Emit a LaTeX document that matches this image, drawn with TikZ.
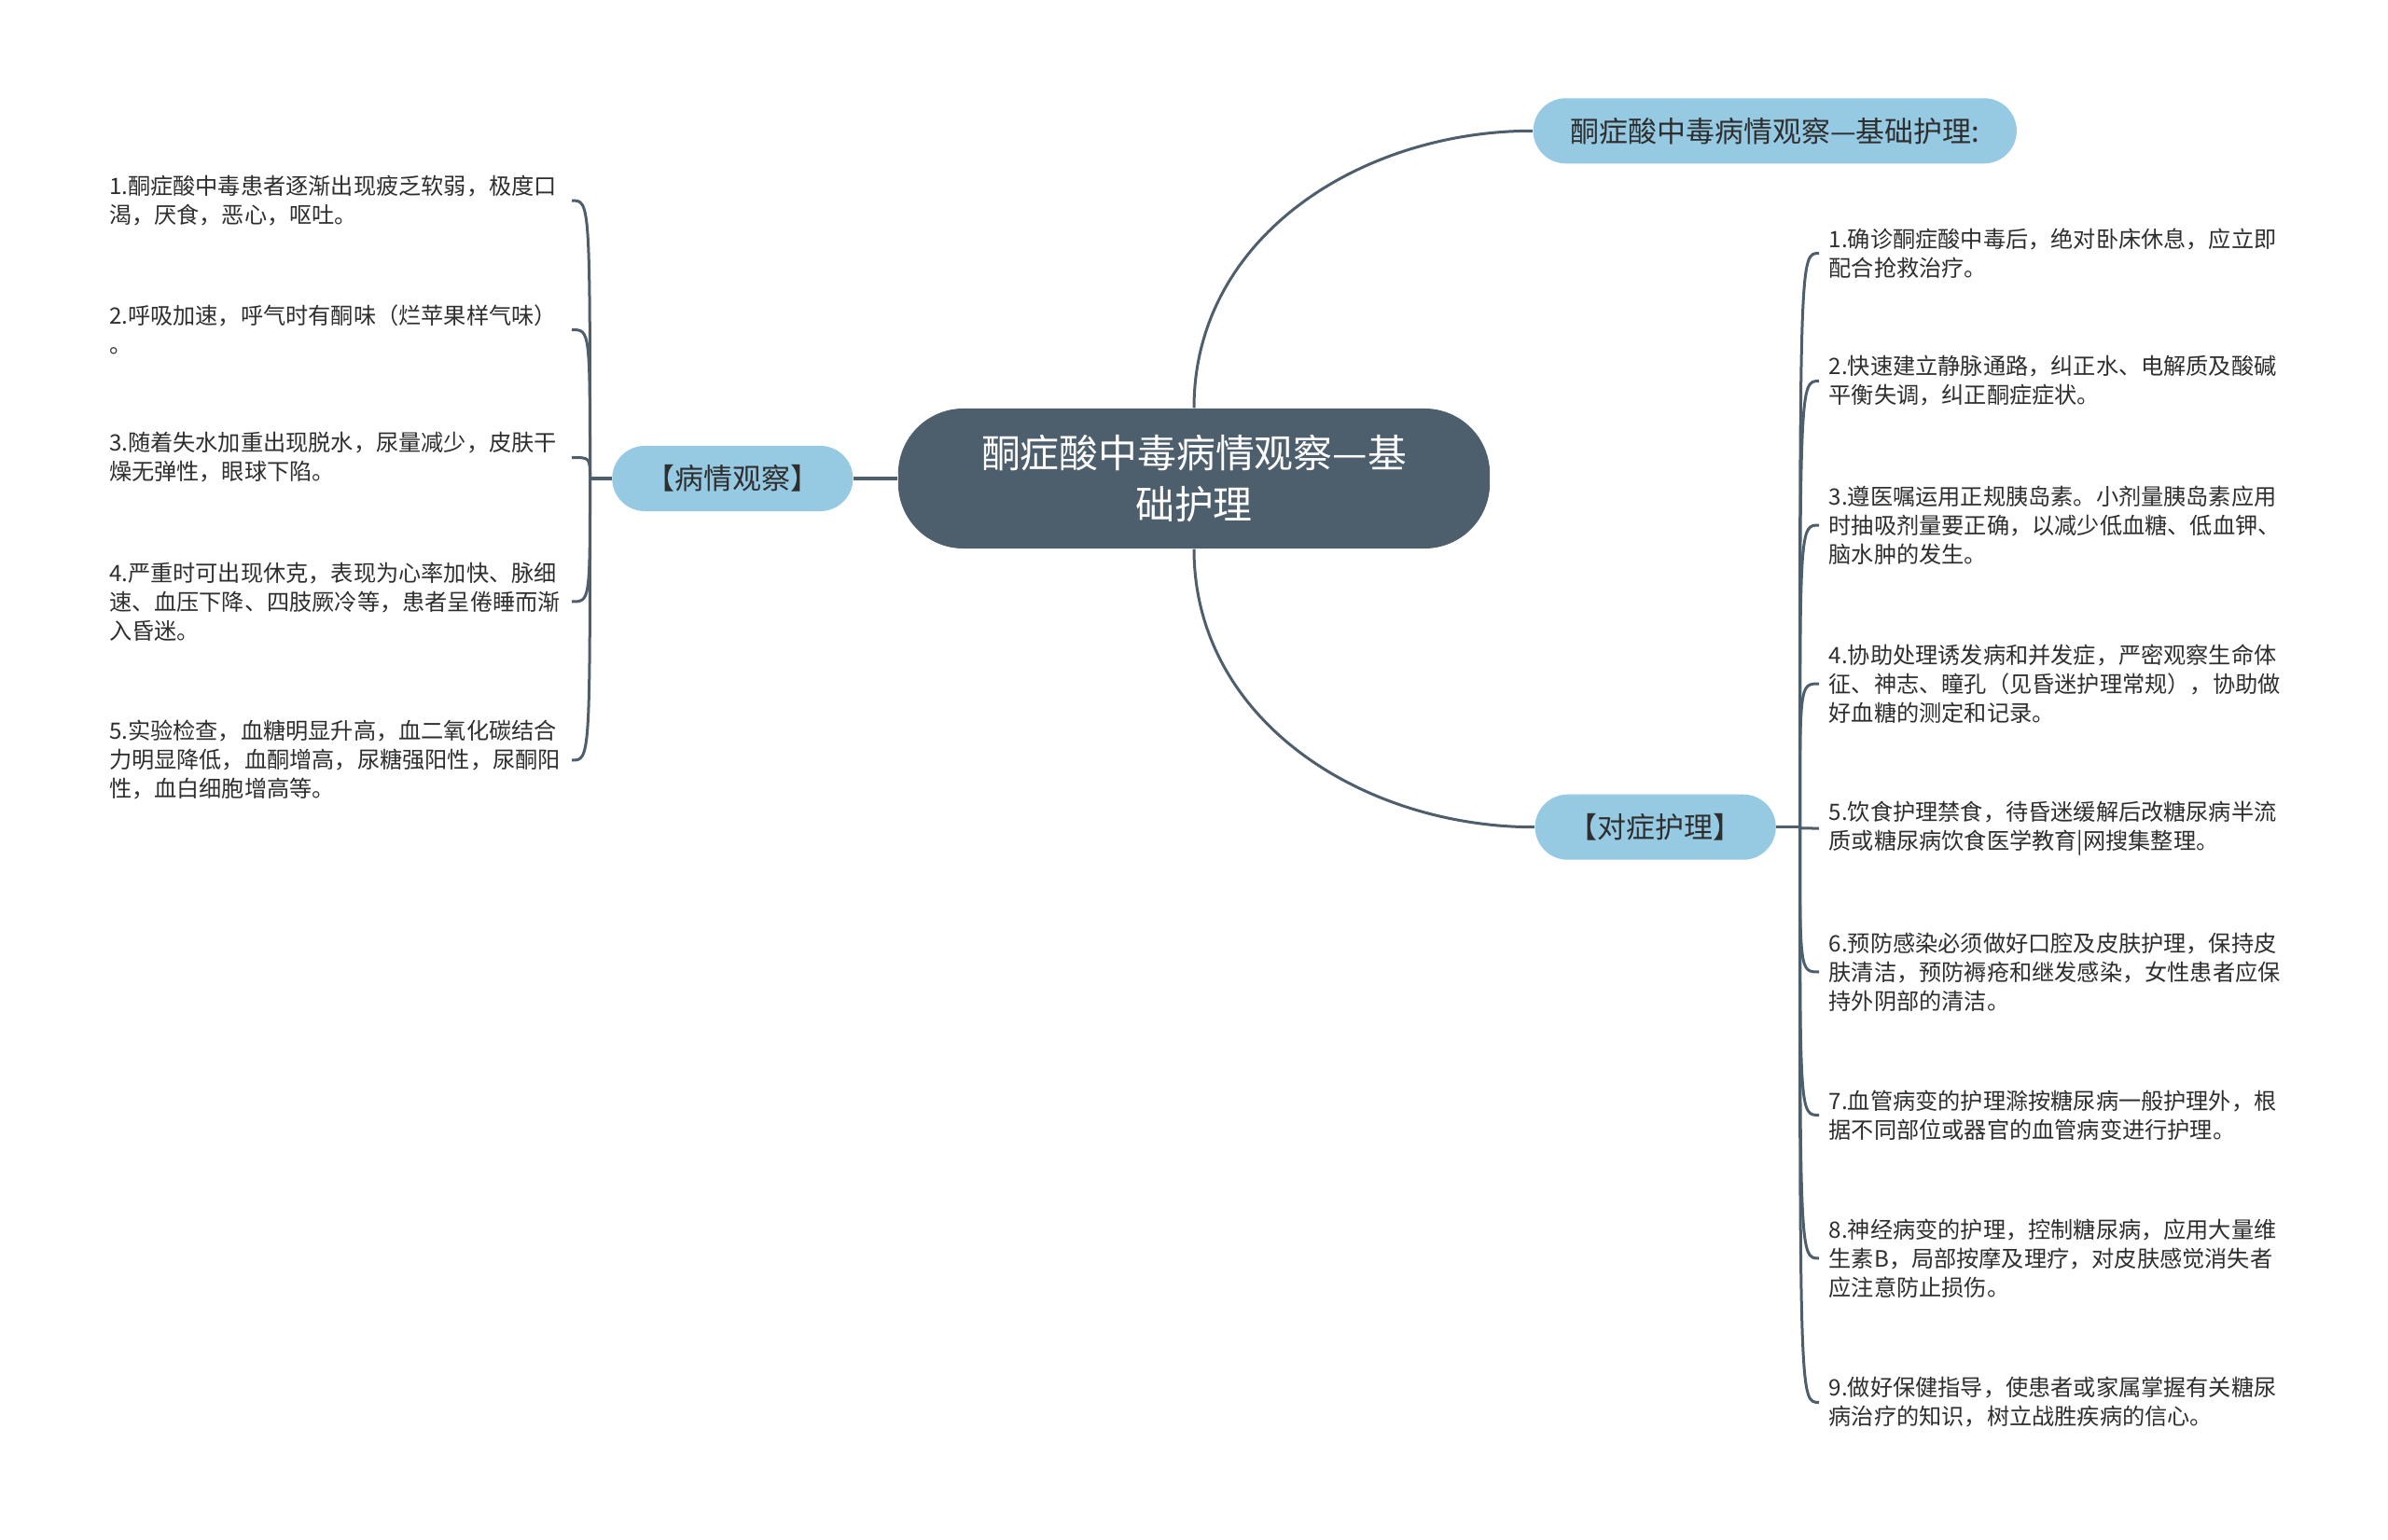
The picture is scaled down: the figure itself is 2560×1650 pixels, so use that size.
\documentclass[tikz,border=0pt]{standalone}
\usepackage{fontspec}
\setmainfont{Noto Sans CJK SC}
\usetikzlibrary{positioning, calc}
\definecolor{slate}{HTML}{4D5E6D}
\definecolor{skyblue}{HTML}{96CAE3}
\definecolor{inkgray}{HTML}{2E2E2E}
\tikzset{
  ketomap/.style={
	x=0.01cm, y=0.01cm, % one unit is one pixel of the page
	links/.style={slate, line width=0.03cm}, % colour and weight of every branch
	hook/.style={to path={.. controls (\tikztostart |- \tikztotarget) .. (\tikztotarget)}}, % curl into a leaf
  },
  rootbox/.style={fill=slate, text=white, rounded corners=0.7cm, minimum width=6.34cm, minimum height=1.5cm, align=center, font=\fontsize{11.9}{15.4}\selectfont},
  topicbox/.style={fill=skyblue, text=inkgray, rounded corners=0.35cm, minimum height=0.7cm, inner sep=0pt, font=\fontsize{8.8}{10.5}\selectfont},
  leaftext/.style={text=inkgray, text width=4.85cm, align=left, inner xsep=0.1cm, inner ysep=0pt, font=\fontsize{6.88}{8.82}\selectfont},
}
\begin{document}
\begin{tikzpicture}[ketomap]
	  \useasboundingbox (0,0) rectangle (2560,1650);
	  \node[rootbox] (root) at (1280,1137) {酮症酸中毒病情观察—基\\础护理};
	  \node[topicbox, minimum width=5.18cm, right=0.45cm of root, yshift=3.725cm] (top) {酮症酸中毒病情观察—基础护理:};
	  \node[topicbox, minimum width=2.58cm, right=0.47cm of root, yshift=-3.735cm] (dz) {【对症护理】};
	  \node[topicbox, minimum width=2.58cm, left=0.47cm of root] (bq) {【病情观察】};
	  \coordinate[left=0.23cm of bq.west] (jl);
	  \coordinate[right=0.25cm of dz.east] (jr);
	  % left leaves
	  \node[leaftext, anchor=east] (l1) at (613,1435) {1.酮症酸中毒患者逐渐出现疲乏软弱，极度口\\渴，厌食，恶心，呕吐。};
	  \node[leaftext, anchor=east] (l2) at (613,1296.5) {2.呼吸加速，呼气时有酮味（烂苹果样气味）\\。};
	  \node[leaftext, anchor=east] (l3) at (613,1159.5) {3.随着失水加重出现脱水，尿量减少，皮肤干\\燥无弹性，眼球下陷。};
	  \node[leaftext, anchor=east] (l4) at (613,1005) {4.严重时可出现休克，表现为心率加快、脉细\\速、血压下降、四肢厥冷等，患者呈倦睡而渐\\入昏迷。};
	  \node[leaftext, anchor=east] (l5) at (613,835) {5.实验检查，血糖明显升高，血二氧化碳结合\\力明显降低，血酮增高，尿糖强阳性，尿酮阳\\性，血白细胞增高等。};
	  % right leaves
	  \node[leaftext, anchor=west] (r1) at (1950,1378.5) {1.确诊酮症酸中毒后，绝对卧床休息，应立即\\配合抢救治疗。};
	  \node[leaftext, anchor=west] (r2) at (1950,1241.5) {2.快速建立静脉通路，纠正水、电解质及酸碱\\平衡失调，纠正酮症症状。};
	  \node[leaftext, anchor=west] (r3) at (1950,1087) {3.遵医嘱运用正规胰岛素。小剂量胰岛素应用\\时抽吸剂量要正确，以减少低血糖、低血钾、\\脑水肿的发生。};
	  \node[leaftext, anchor=west] (r4) at (1950,917) {4.协助处理诱发病和并发症，严密观察生命体\\征、神志、瞳孔（见昏迷护理常规），协助做\\好血糖的测定和记录。};
	  \node[leaftext, anchor=west] (r5) at (1950,762) {5.饮食护理禁食，待昏迷缓解后改糖尿病半流\\质或糖尿病饮食医学教育|网搜集整理。};
	  \node[leaftext, anchor=west] (r6) at (1950,608) {6.预防感染必须做好口腔及皮肤护理，保持皮\\肤清洁，预防褥疮和继发感染，女性患者应保\\持外阴部的清洁。};
	  \node[leaftext, anchor=west] (r7) at (1950,454.5) {7.血管病变的护理滁按糖尿病一般护理外，根\\据不同部位或器官的血管病变进行护理。};
	  \node[leaftext, anchor=west] (r8) at (1950,301) {8.神经病变的护理，控制糖尿病，应用大量维\\生素B，局部按摩及理疗，对皮肤感觉消失者\\应注意防止损伤。};
	  \node[leaftext, anchor=west] (r9) at (1950,146.5) {9.做好保健指导，使患者或家属掌握有关糖尿\\病治疗的知识，树立战胜疾病的信心。};
	  \draw[links] (root.north) edge[out=90, in=180] (top.west)
		  (root.south) edge[out=-90, in=180] (dz.west)
		  (root.west) edge (bq.east)
		  (bq.west) edge (jl)
		  (dz.east) edge (jr)
		  (jl) edge[hook] (l1.east) edge[hook] (l2.east) edge[hook] (l3.east) edge[hook] (l4.east) edge[hook] (l5.east)
		  (jr) edge[hook] (r1.west) edge[hook] (r2.west) edge[hook] (r3.west) edge[hook] (r4.west) edge[hook] (r5.west)
		  (jr) edge[hook] (r6.west) edge[hook] (r7.west) edge[hook] (r8.west) edge[hook] (r9.west)
	  ;
\end{tikzpicture}
\end{document}
